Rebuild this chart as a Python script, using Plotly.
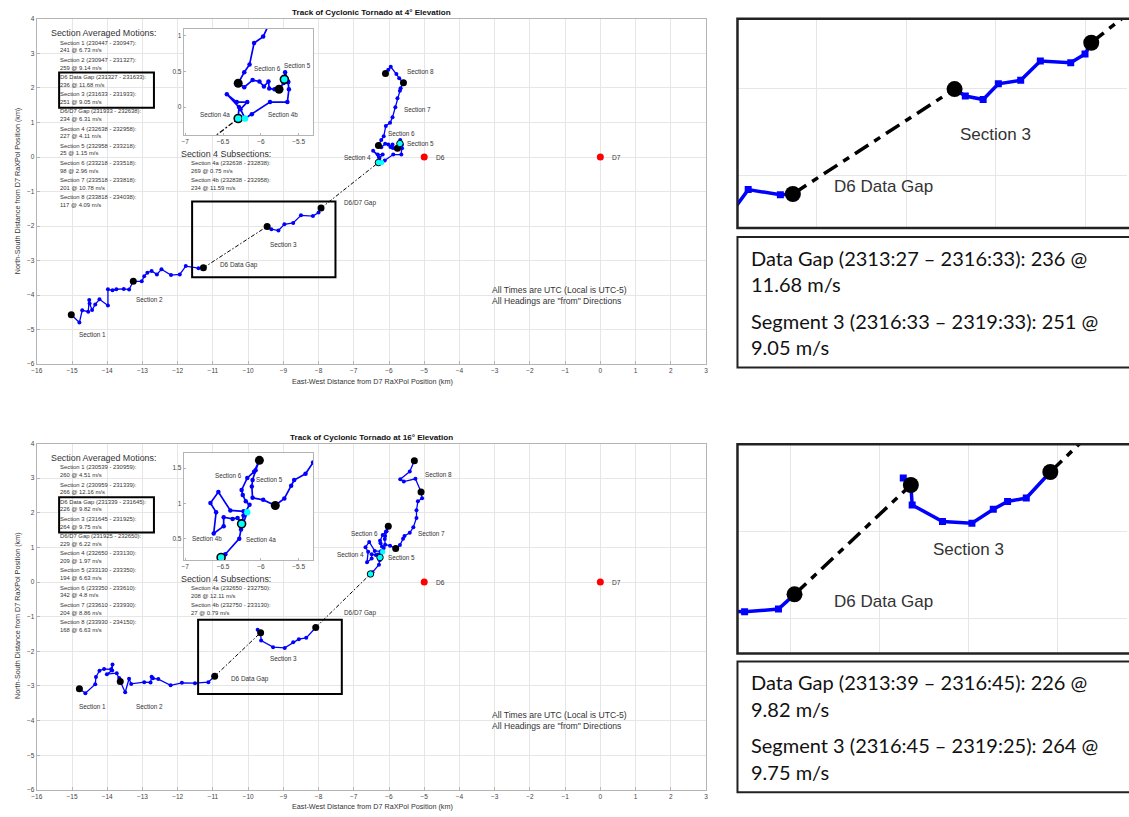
import plotly.graph_objects as go

W, H = 1129, 817

# ---------------- 4 deg elevation track (km relative to D7) ----------------
e4_west_x = [-15.02, -14.79, -14.71, -14.54, -14.51, -14.50, -14.43, -14.34, -14.22, -13.98, -13.98,
             -13.85, -13.74, -13.53, -13.38, -13.26, -13.02, -12.95, -12.86, -12.74, -12.59, -12.46,
             -12.19, -11.94, -11.77, -11.41, -11.27]
e4_west_y = [-4.57, -4.79, -4.44, -4.48, -4.14, -4.24, -4.43, -4.27, -4.12, -4.30, -3.83,
             -3.86, -3.83, -3.82, -3.84, -3.60, -3.60, -3.45, -3.35, -3.30, -3.40, -3.25,
             -3.42, -3.40, -3.16, -3.22, -3.21]
e4_sec3_x = [-9.46, -9.34, -9.14, -8.97, -8.72, -8.50, -8.16, -8.00, -7.93]
e4_sec3_y = [-2.01, -2.09, -2.13, -1.95, -1.91, -1.69, -1.71, -1.61, -1.48]
e4_east_x = [-6.30, -6.29, -6.45, -6.32, -6.18, -6.27, -6.21,
             -6.12, -5.88, -5.65, -5.63, -5.64, -5.69,
             -5.68, -5.64, -5.70, -5.76,
             -5.82, -5.89, -5.90, -5.96, -6.02, -6.11, -6.22, -6.30,
             -6.22, -6.15, -6.09, -5.97, -5.90, -5.82, -5.76, -5.69, -5.67, -5.59,
             -5.71, -5.79, -5.95, -6.02, -6.10]
e4_east_y = [-0.16, 0.00, 0.18, 0.07, 0.07, -0.03, -0.16,
             -0.10, 0.07, 0.07, 0.25, 0.35, 0.39,
             0.49, 0.36, 0.34, 0.25,
             0.25, 0.26, 0.36, 0.29, 0.36, 0.38, 0.28, 0.335,
             0.49, 0.60, 0.90, 0.99, 1.15, 1.44, 1.70, 1.92, 1.99, 2.15,
             2.28, 2.40, 2.61, 2.53, 2.42]
e4_gap_x = [-11.27, -9.46, None, -7.93, -6.30]
e4_gap_y = [-3.21, -2.01, None, -1.48, -0.16]
e4_node_x = [-15.02, -13.26, -11.27, -9.46, -7.93, -5.76, -6.30, -5.59, -6.10]
e4_node_y = [-4.57, -3.60, -3.21, -2.01, -1.48, 0.25, 0.335, 2.15, 2.42]
e4_cyan_x = [-6.30, -5.69]
e4_cyan_y = [-0.16, 0.39]
e4_split_x = [-6.21]
e4_split_y = [-0.16]

# ---------------- 16 deg elevation track ----------------
e16_west_x = [-14.79, -14.62, -14.34, -14.32, -14.22, -14.09, -13.89, -13.85, -13.86, -14.01, -13.73,
              -13.66, -13.63, -13.49, -13.38, -13.32, -12.95, -12.77, -12.74, -12.70, -12.55, -12.20,
              -11.88, -11.51, -11.13, -10.95]
e16_west_y = [-3.08, -3.21, -2.95, -2.74, -2.56, -2.51, -2.52, -2.38, -2.55, -2.66, -2.63,
              -2.77, -2.87, -3.18, -2.79, -2.94, -2.89, -2.90, -2.73, -2.78, -2.80, -2.98,
              -2.91, -2.92, -2.89, -2.72]
e16_sec3_x = [-9.73, -9.645, -9.63, -9.29, -8.96, -8.72, -8.56, -8.35, -8.08]
e16_sec3_y = [-1.38, -1.46, -1.69, -1.88, -1.90, -1.74, -1.65, -1.61, -1.31]
e16_east_x = [-6.526, -6.47, -6.286, -6.263, -6.18,
              -6.229, -6.404, -6.562, -6.667, -6.592, -6.624, -6.492, -6.492, -6.374, -6.308, -6.255,
              -6.23, -6.15, -6.20, -6.24, -6.255, -6.18, -6.09, -6.02,
              -6.07, -6.11, -6.12, -6.11, -5.97, -5.81,
              -5.69, -5.60, -5.56, -5.41, -5.31, -5.22, -5.22, -5.18, -5.06, -5.09,
              -5.25, -5.58, -5.68, -5.41, -5.28]
e16_east_y = [0.233, 0.28, 0.50, 0.63, 0.874,
              0.888, 0.90, 1.16, 1.005, 0.874, 0.574, 0.677, 0.803, 0.78, 0.794, 0.71,
              0.83, 0.98, 1.03, 1.12, 1.19, 1.36, 1.45, 1.61,
              1.47, 1.33, 1.24, 1.08, 1.05, 0.97,
              1.07, 1.25, 1.33, 1.42, 1.58, 1.85, 2.07, 2.33, 2.42, 2.60,
              2.98, 2.90, 2.97, 3.19, 3.50]
e16_gap_x = [-10.95, -9.645, None, -8.08, -6.526]
e16_gap_y = [-2.72, -1.46, None, -1.31, 0.233]
e16_node_x = [-14.79, -13.63, -10.95, -9.645, -8.08, -6.02, -5.81, -5.09, -5.28]
e16_node_y = [-3.08, -2.87, -2.72, -1.46, -1.31, 1.61, 0.97, 2.60, 3.50]
e16_cyan_x = [-6.526, -6.255]
e16_cyan_y = [0.233, 0.71]
e16_split_x = [-6.18]
e16_split_y = [0.874]

# radar positions
st_x = [-5.0, 0.0]
st_y = [0.0, 0.0]
st_names = ["D6", "D7"]

# section labels on the main maps
e4_lab_text = ["Section 1", "Section 2", "D6 Data Gap", "Section 3", "D6/D7 Gap",
               "Section 4", "Section 5", "Section 6", "Section 7", "Section 8"]
e4_lab_x = [-14.41, -12.80, -10.25, -9.00, -6.82, -6.89, -5.10, -5.65, -5.20, -5.11]
e4_lab_y = [-5.13, -4.12, -3.12, -2.53, -1.32, 0.00, 0.39, 0.69, 1.39, 2.49]
e16_lab_text = e4_lab_text
e16_lab_x = [-14.41, -12.81, -9.95, -9.00, -6.82, -7.10, -5.65, -6.70, -4.80, -4.60]
e16_lab_y = [-3.60, -3.60, -2.80, -2.20, -0.89, 0.80, 0.70, 1.40, 1.40, 3.11]

# inset labels
e4_in_text = ["Section 4a", "Section 4b", "Section 6", "Section 5"]
e4_in_x = [-6.61, -5.71, -5.91, -5.52]
e4_in_y = [-0.10, -0.11, 0.54, 0.59]
e16_in_text = ["Section 4b", "Section 4a", "Section 6", "Section 5"]
e16_in_x = [-6.71, -6.00, -6.43, -5.88]
e16_in_y = [0.50, 0.49, 1.40, 1.34]

# section averaged motion summaries
e4_mot_lbl = ["Section 1 (230447 - 230947):", "Section 2 (230947 - 231327):",
              "D6 Data Gap (231327 - 231633):", "Section 3 (231633 - 231933):",
              "D6/D7 Gap (231933 - 232638):", "Section 4 (232638 - 232958):",
              "Section 5 (232958 - 233218):", "Section 6 (233218 - 233518):",
              "Section 7 (233518 - 233818):", "Section 8 (233818 - 234038):"]
e4_mot_val = ["241 @ 6.73 m/s", "259 @ 9.14 m/s", "236 @ 11.68 m/s", "251 @ 9.05 m/s",
              "234 @ 6.31 m/s", "227 @ 4.11 m/s", "25 @ 1.15 m/s", "98 @ 2.96 m/s",
              "201 @ 10.78 m/s", "117 @ 4.09 m/s"]
e4_sub_lbl = ["Section 4a (232638 - 232838):", "Section 4b (232838 - 232958):"]
e4_sub_val = ["269 @ 0.75 m/s", "234 @ 11.59 m/s"]
e16_mot_lbl = ["Section 1 (230539 - 230959):", "Section 2 (230959 - 231339):",
               "D6 Data Gap (231339 - 231645):", "Section 3 (231645 - 231925):",
               "D6/D7 Gap (231925 - 232650):", "Section 4 (232650 - 233130):",
               "Section 5 (233130 - 233350):", "Section 6 (233350 - 233610):",
               "Section 7 (233610 - 233930):", "Section 8 (233930 - 234150):"]
e16_mot_val = ["260 @ 4.51 m/s", "266 @ 12.16 m/s", "226 @ 9.82 m/s", "264 @ 9.75 m/s",
               "229 @ 6.22 m/s", "209 @ 1.97 m/s", "194 @ 6.63 m/s", "342 @ 4.8 m/s",
               "204 @ 8.86 m/s", "168 @ 6.63 m/s"]
e16_sub_lbl = ["Section 4a (232650 - 232750):", "Section 4b (232750 - 233130):"]
e16_sub_val = ["208 @ 12.11 m/s", "27 @ 0.79 m/s"]

# call-out notes beside the zoomed views
e4_note = ["Data Gap (2313:27 \u2013 2316:33): 236 @", "11.68 m/s",
           "Segment 3 (2316:33 \u2013 2319:33): 251 @", "9.05 m/s"]
e16_note = ["Data Gap (2313:39 \u2013 2316:45): 226 @", "9.82 m/s",
            "Segment 3 (2316:45 \u2013 2319:25): 264 @", "9.75 m/s"]

# zoom rectangles drawn on the main maps [x0, y0, x1, y1]
e4_box = [-11.59, -3.48, -7.52, -1.29]
e16_box = [-11.42, -3.23, -7.34, -1.09]

MAT_FONT = "Liberation Sans, Arial, sans-serif"
TXT = "#333333"
GRID = "#e6e6e6"
EDGE = "#b4b4b4"


def fx(p):
    return p / W


def fy(p):
    return 1 - p / H


STY = {
    "main": dict(lw=1.3, ms=4, node=7, cyan=6.5, clw=1, gw=1, gd="4px,2px,1.5px,2px", red=7),
    "inset": dict(lw=1.7, ms=4.5, node=9, cyan=8, clw=1.6, gw=1.3, gd="5px,2px,2px,2px", red=8),
    "panel": dict(lw=3.5, ms=7, node=16, cyan=14, clw=2, gw=3.5, gd="16px,7px,7px,7px", red=14),
}

fig = go.Figure()


def add_track(xa, ya, trk, sty):
    s = STY[sty]
    common = dict(xaxis=xa, yaxis=ya, showlegend=False, hoverinfo="skip")
    fig.add_trace(go.Scatter(x=trk["gap_x"], y=trk["gap_y"], mode="lines",
                             line=dict(color="black", width=s["gw"], dash=s["gd"]), **common))
    for kx, ky in (("west_x", "west_y"), ("sec3_x", "sec3_y"), ("east_x", "east_y")):
        fig.add_trace(go.Scatter(x=trk[kx], y=trk[ky], mode="lines+markers",
                                 line=dict(color="#0000ff", width=s["lw"]),
                                 marker=dict(color="#0000ff", size=s["ms"],
                                             symbol="square" if sty == "panel" else "circle"),
                                 **common))
    fig.add_trace(go.Scatter(x=trk["node_x"], y=trk["node_y"], mode="markers",
                             marker=dict(color="black", size=s["node"]), **common))
    fig.add_trace(go.Scatter(x=trk["cyan_x"], y=trk["cyan_y"], mode="markers",
                             marker=dict(color="#00ffff", size=s["cyan"],
                                         line=dict(color="black", width=s["clw"])), **common))
    fig.add_trace(go.Scatter(x=trk["split_x"], y=trk["split_y"], mode="markers",
                             marker=dict(color="#00ffff", size=s["cyan"] * 0.8), **common))
    fig.add_trace(go.Scatter(x=st_x, y=st_y, mode="markers",
                             marker=dict(color="#ff0000", size=s["red"]), **common))


trk4 = dict(west_x=e4_west_x, west_y=e4_west_y, sec3_x=e4_sec3_x, sec3_y=e4_sec3_y,
            east_x=e4_east_x, east_y=e4_east_y, gap_x=e4_gap_x, gap_y=e4_gap_y,
            node_x=e4_node_x, node_y=e4_node_y, cyan_x=e4_cyan_x, cyan_y=e4_cyan_y,
            split_x=e4_split_x, split_y=e4_split_y)
trk16 = dict(west_x=e16_west_x, west_y=e16_west_y, sec3_x=e16_sec3_x, sec3_y=e16_sec3_y,
             east_x=e16_east_x, east_y=e16_east_y, gap_x=e16_gap_x, gap_y=e16_gap_y,
             node_x=e16_node_x, node_y=e16_node_y, cyan_x=e16_cyan_x, cyan_y=e16_cyan_y,
             split_x=e16_split_x, split_y=e16_split_y)

# subplot ids: main maps (x/y, x2/y2), insets (x3/y3, x4/y4), zoomed views (x5/y5, x6/y6)
add_track("x", "y", trk4, "main")
add_track("x2", "y2", trk16, "main")
add_track("x3", "y3", trk4, "inset")
add_track("x4", "y4", trk16, "inset")
add_track("x5", "y5", trk4, "panel")
add_track("x6", "y6", trk16, "panel")

main_x = dict(range=[-16, 3], dtick=1, tick0=0, showgrid=True, gridcolor=GRID, zeroline=False,
              showline=True, mirror=True, linecolor=EDGE, linewidth=1, ticks="inside", ticklen=3,
              tickcolor=EDGE, tickfont=dict(size=6.5, color="#444", family=MAT_FONT),
              domain=[fx(31), fx(705)])
main_y = dict(range=[-6, 4], dtick=1, tick0=0, showgrid=True, gridcolor=GRID, zeroline=False,
              showline=True, mirror=True, linecolor=EDGE, linewidth=1, ticks="inside", ticklen=3,
              tickcolor=EDGE, tickfont=dict(size=6.5, color="#444", family=MAT_FONT))
inset_x = dict(range=[-7.02, -5.31], tickvals=[-7, -6.5, -6, -5.5], showgrid=False, zeroline=False,
               showline=True, mirror=True, linecolor=EDGE, linewidth=1, ticks="inside", ticklen=2,
               tickcolor=EDGE, tickfont=dict(size=6.5, color="#444", family=MAT_FONT),
               domain=[fx(179), fx(309.3)])
inset_y = dict(showgrid=False, zeroline=False, showline=True, mirror=True, linecolor=EDGE,
               linewidth=1, ticks="inside", ticklen=2, tickcolor=EDGE,
               tickfont=dict(size=6.5, color="#444", family=MAT_FONT))
panel_ax = dict(dtick=1, tick0=0, showgrid=True, gridcolor=GRID, zeroline=False, showline=False,
                showticklabels=False, ticks="")

fig.update_layout(
    width=W, height=H, autosize=False, margin=dict(l=0, r=0, t=0, b=0),
    paper_bgcolor="white", plot_bgcolor="white", showlegend=False,
    xaxis=dict(main_x, anchor="y"),
    yaxis=dict(main_y, anchor="x", domain=[fy(363.3), fy(15)]),
    xaxis2=dict(main_x, anchor="y2"),
    yaxis2=dict(main_y, anchor="x2", domain=[fy(792.7), fy(443.3)]),
    xaxis3=dict(inset_x, anchor="y3"),
    yaxis3=dict(inset_y, anchor="x3", range=[-0.39, 1.10], tickvals=[0, 0.5, 1],
                domain=[fy(132), fy(25)]),
    xaxis4=dict(inset_x, anchor="y4"),
    yaxis4=dict(inset_y, anchor="x4", range=[0.195, 1.708], tickvals=[0.5, 1, 1.5],
                domain=[fy(561), fy(453.3)]),
    xaxis5=dict(panel_ax, anchor="y5", range=[-11.89, -7.53], domain=[fx(736.7), 1]),
    yaxis5=dict(panel_ax, anchor="x5", range=[-3.60, -1.207], domain=[fy(226), fy(15)]),
    xaxis6=dict(panel_ax, anchor="y6", range=[-11.59, -7.22], domain=[fx(736.7), 1]),
    yaxis6=dict(panel_ax, anchor="x6", range=[-3.40, -0.99], domain=[fy(655), fy(444)]),
)

ann = []
shapes = []


def note(xp, yp, text, size, anchor="left", bold=False, family=MAT_FONT, color=TXT, angle=0):
    if bold:
        text = "<b>" + text + "</b>"
    ann.append(dict(xref="paper", yref="paper", x=fx(xp), y=fy(yp), text=text, showarrow=False,
                    xanchor=anchor, yanchor="middle", textangle=angle, borderpad=0,
                    font=dict(size=size, color=color, family=family)))


def data_label(xa, ya, x, y, text, size, anchor="center"):
    ann.append(dict(xref=xa, yref=ya, x=x, y=y, text=text, showarrow=False, xanchor=anchor,
                    yanchor="middle", font=dict(size=size, color=TXT, family=MAT_FONT)))


for (xa, ya, dy, elev, labs, ins, mot_l, mot_v, sub_l, sub_v, box, xi, yi) in (
        ("x", "y", 0, "4", (e4_lab_text, e4_lab_x, e4_lab_y), (e4_in_text, e4_in_x, e4_in_y),
         e4_mot_lbl, e4_mot_val, e4_sub_lbl, e4_sub_val, e4_box, "x3", "y3"),
        ("x2", "y2", 428.4, "16", (e16_lab_text, e16_lab_x, e16_lab_y),
         (e16_in_text, e16_in_x, e16_in_y),
         e16_mot_lbl, e16_mot_val, e16_sub_lbl, e16_sub_val, e16_box, "x4", "y4")):
    note(368, 8.5 + dy, "Track of Cyclonic Tornado at %s\u00b0 Elevation" % elev, 8.1,
         anchor="center", bold=True, color="#111")
    note(369, 381 + dy, "East-West Distance from D7 RaXPol Position (km)", 7.2, anchor="center")
    note(11, 188 + dy, "North-South Distance from D7 RaXPol Position (km)", 7.2, anchor="center",
         angle=-90)
    for t, x, y in zip(*labs):
        data_label(xa, ya, x, y, t, 6.4)
    for name, x, y in zip(st_names, st_x, st_y):
        data_label(xa, ya, x + 0.45, y, name, 6.6)
    for t, x, y in zip(*ins):
        data_label(xi, yi, x, y, t, 6.3)
    note(44, 29.3 + dy, "Section Averaged Motions:", 8.9)
    for i, (l, v) in enumerate(zip(mot_l, mot_v)):
        note(53, 39 + dy + 17.33 * i, l, 5.9)
        note(53, 46.8 + dy + 17.33 * i, v, 5.9)
    note(175, 151.7 + dy, "Section 4 Subsections:", 8.9)
    for i, (l, v) in enumerate(zip(sub_l, sub_v)):
        note(185, 160.7 + dy + 17.3 * i, l, 5.9)
        note(185, 168.7 + dy + 17.3 * i, v, 5.9)
    note(488, 288.3 + dy, "All Times are UTC (Local is UTC-5)", 8.6)
    note(488, 300 + dy, "All Headings are \"from\" Directions", 8.6)
    # outline around the D6 gap / section 3 summary lines
    shapes.append(dict(type="rect", xref="paper", yref="paper", x0=fx(53.5), x1=fx(149),
                       y0=fy(104.6 + dy), y1=fy(69.0 + dy), line=dict(color="black", width=2)))
    # zoom rectangle on the map
    shapes.append(dict(type="rect", xref=xa, yref=ya, x0=box[0], y0=box[1], x1=box[2], y1=box[3],
                       line=dict(color="black", width=2)))

# labels inside the zoomed views reuse the map label positions
for xa, ya, lx, ly in (("x5", "y5", e4_lab_x, e4_lab_y), ("x6", "y6", e16_lab_x, e16_lab_y)):
    for k in (2, 3):
        data_label(xa, ya, lx[k], ly[k], e4_lab_text[k], 17)

# zoomed-view frames and note boxes
for top, bot, ntop, nbot, lines in ((15, 226, 235, 366.7, e4_note), (444, 655, 663.3, 795, e16_note)):
    shapes.append(dict(type="rect", xref="paper", yref="paper", x0=fx(736.7), x1=1.02,
                       y0=fy(bot), y1=fy(top), line=dict(color="#222", width=2.5)))
    shapes.append(dict(type="rect", xref="paper", yref="paper", x0=fx(736.7), x1=1.02,
                       y0=fy(nbot), y1=fy(ntop), line=dict(color="#222", width=2)))
    ys = [ntop + 21, ntop + 47.7, ntop + 84.3, ntop + 111]
    for t, yy in zip(lines, ys):
        note(749, yy, t, 20, family="Lato, Carlito, sans-serif", color="#111")

fig.update_layout(annotations=ann, shapes=shapes)
fig.write_html("out.html")
